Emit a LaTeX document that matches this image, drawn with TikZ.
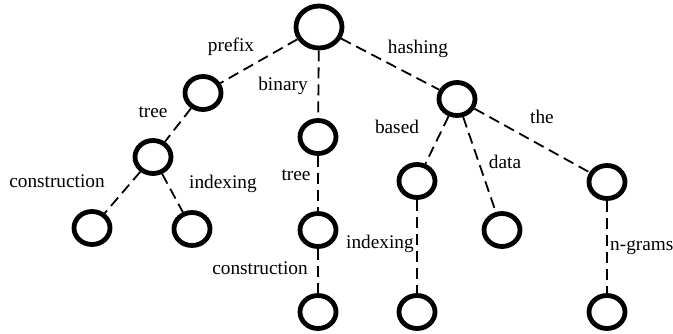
\documentclass[tikz,border=0pt]{standalone}
\usepackage{fontspec}
\setmainfont{Liberation Serif}
\usetikzlibrary{shapes.geometric}
\begin{document}
\begin{tikzpicture}[x=1pt,y=-1pt,
  vtx/.style={draw, ellipse, line width=4.8pt, minimum width=36pt, minimum height=33pt, inner sep=0pt},
  rootvtx/.style={vtx, minimum width=46pt, minimum height=42pt},
  link/.style={line width=1.8pt, dash pattern=on 11pt off 6pt},
  lbl/.style={font=\fontsize{19.3pt}{22pt}\selectfont, inner sep=0pt}]
\useasboundingbox (0,0) rectangle (673,334);
\node[rootvtx] (r) at (319,27) {};
\node[vtx] (p) at (203,93) {};
\node[vtx] (pt) at (153,157) {};
\node[vtx] (pc) at (92,228) {};
\node[vtx] (pi) at (192,229) {};
\node[vtx] (b) at (318,137) {};
\node[vtx] (bt) at (318,230) {};
\node[vtx] (bc) at (318,312) {};
\node[vtx] (h) at (457,99) {};
\node[vtx] (hb) at (417,181) {};
\node[vtx] (hbi) at (417,312) {};
\node[vtx] (hd) at (502,230) {};
\node[vtx] (ht) at (607,182) {};
\node[vtx] (htn) at (607,312) {};
\draw[link] (r) -- (p);
\draw[link] (p) -- (pt);
\draw[link] (pt) -- (pc);
\draw[link] (pt) -- (pi);
\draw[link] (r) -- (b);
\draw[link] (b) -- (bt);
\draw[link] (bt) -- (bc);
\draw[link] (r) -- (h);
\draw[link] (h) -- (hb);
\draw[link] (hb) -- (hbi);
\draw[link] (h) -- (hd);
\draw[link] (h) -- (ht);
\draw[link] (ht) -- (htn);
\node[lbl] (l1) at (231,47) {prefix};
\node[lbl] (l2) at (283,86) {binary};
\node[lbl] (l3) at (153,112) {tree};
\node[lbl] (l4) at (418,49) {hashing};
\node[lbl] (l5) at (397,127) {based};
\node[lbl] (l6) at (542,117) {the};
\node[lbl] (l7) at (505,162) {data};
\node[lbl] (l8) at (57,181) {construction};
\node[lbl] (l9) at (223,184) {indexing};
\node[lbl] (l10) at (296,175) {tree};
\node[lbl] (l11) at (260,268) {construction};
\node[lbl] (l12) at (380,244) {indexing};
\node[lbl, anchor=west] (l13) at (610,248) {n-grams};
\end{tikzpicture}
\end{document}
